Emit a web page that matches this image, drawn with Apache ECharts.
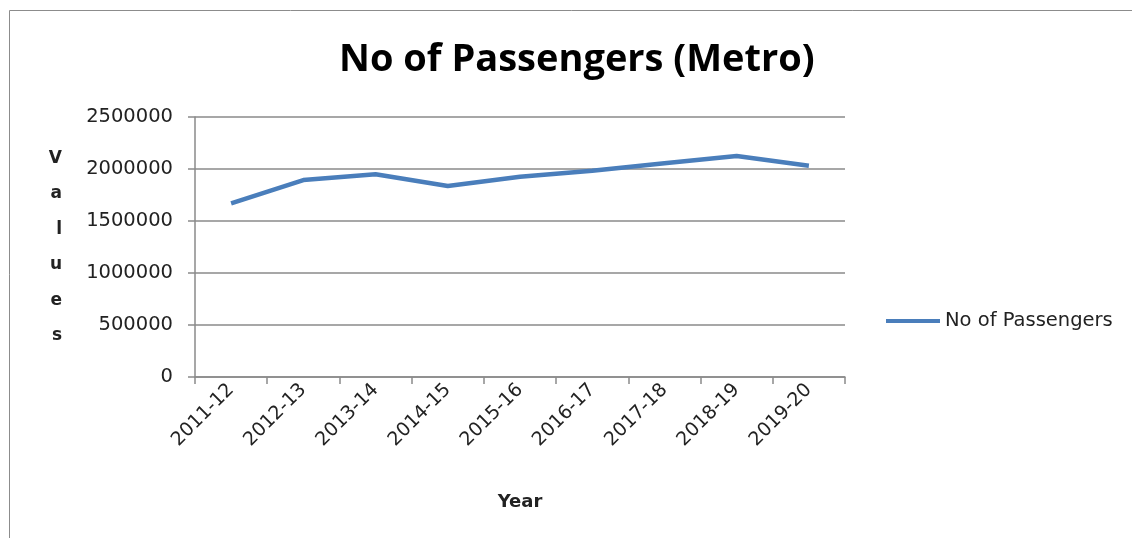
<!DOCTYPE html>
<html>
<head>
<meta charset="utf-8">
<script src="https://cdn.jsdelivr.net/npm/echarts@6/dist/echarts.min.js"></script>
<style>
html,body{margin:0;padding:0;background:#fff;}
#c{width:1132px;height:538px;}
</style>
</head>
<body>
<div id="c"></div>
<script>
const categories = ['2011-12','2012-13','2013-14','2014-15','2015-16','2016-17','2017-18','2018-19','2019-20'];
const passengers = [1670000, 1894000, 1949000, 1836000, 1926000, 1984000, 2055000, 2126000, 2032000];
const yTicks = [0, 500000, 1000000, 1500000, 2000000, 2500000];
const titleText = 'No of Passengers (Metro)';
const seriesName = 'No of Passengers';

const chart = echarts.init(document.getElementById('c'), null, {renderer:'canvas'});
const gray = '#8a8a8a';
chart.setOption({
  animation: false,
  backgroundColor: '#fff',
  graphic: [{
    type: 'rect', left: 7, top: 8, silent: true,
    shape: {width: 1200, height: 600},
    style: {fill: 'none', stroke: '#8c8c8c', lineWidth: 1}
  }],
  title: {
    text: titleText, left: 334, top: 36,
    textStyle: {fontFamily: 'Open Sans', fontWeight: 'bold', fontSize: 38, color: '#000'}
  },
  legend: {
    left: 881, top: 306, itemWidth: 54, itemHeight: 4, itemGap: 5,
    icon: 'rect',
    data: [seriesName],
    textStyle: {fontFamily: 'DejaVu Sans', fontSize: 19.5, color: '#222'}
  },
  grid: {left: 195, right: 287, top: 117, bottom: 161, containLabel: false},
  xAxis: {
    type: 'category', data: categories, boundaryGap: true,
    name: 'Year', nameLocation: 'middle', nameGap: 116,
    nameTextStyle: {fontFamily: 'DejaVu Sans', fontWeight: 'bold', fontSize: 18, color: '#222'},
    axisLine: {lineStyle: {color: gray, width: 1.5}},
    axisTick: {show: true, alignWithLabel: false, length: 7, lineStyle: {color: gray, width: 1.5}},
    axisLabel: {rotate: 45, margin: 10, fontFamily: 'DejaVu Sans', fontSize: 19, color: '#222'}
  },
  yAxis: {
    type: 'value', min: yTicks[0], max: yTicks[yTicks.length-1], interval: yTicks[1]-yTicks[0],
    name: 'V\na\nl\nu\ne\ns', nameLocation: 'middle', nameRotate: 0, nameGap: 133,
    nameTextStyle: {fontFamily: 'DejaVu Sans', fontWeight: 'bold', fontSize: 17, color: '#222', lineHeight: 35.5},
    axisLine: {show: true, lineStyle: {color: gray, width: 1.5}},
    axisTick: {show: true, length: 7, lineStyle: {color: gray, width: 1.5}},
    splitLine: {show: true, lineStyle: {color: gray, width: 1.5}},
    axisLabel: {margin: 22, fontFamily: 'DejaVu Sans', fontSize: 19.5, color: '#222',
      formatter: function (v) { return String(v); }}
  },
  series: [{
    name: seriesName, type: 'line', data: passengers,
    symbol: 'none', smooth: false,
    lineStyle: {color: '#4a7ebb', width: 4.5},
    itemStyle: {color: '#4a7ebb'}
  }]
});
</script>
</body>
</html>
